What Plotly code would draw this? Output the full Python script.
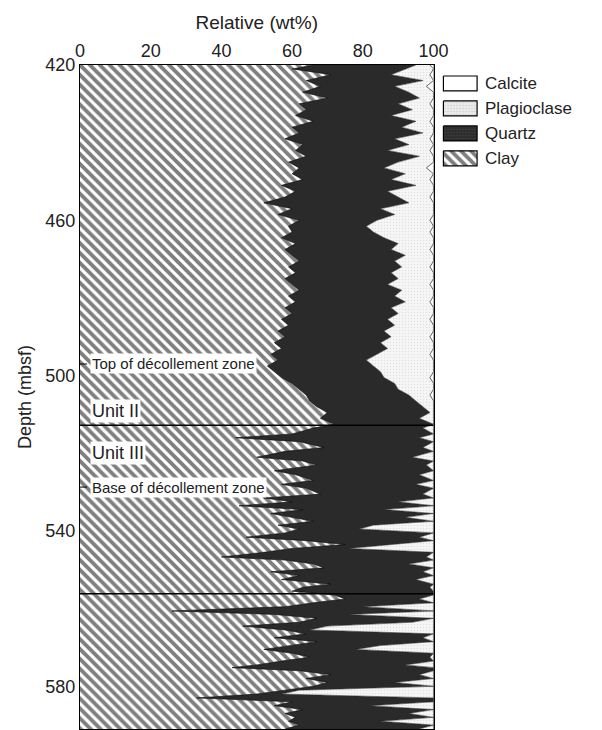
import plotly.graph_objects as go

depth = [420.0, 421.0, 422.5, 424.0, 425.5, 427.0, 428.5, 430.0, 431.5, 433.0,
         434.5, 436.0, 437.5, 439.0, 440.5, 442.0, 443.5, 445.0, 446.5, 448.0,
         449.5, 451.0, 452.5, 454.0, 455.5, 457.0, 458.5, 460.0, 461.5, 463.0,
         464.5, 466.0, 467.5, 469.0, 470.5, 472.0, 473.5, 475.0, 476.5, 478.0,
         479.5, 481.0, 482.5, 484.0, 485.5, 487.0, 488.5, 490.0, 491.5, 493.0,
         494.5, 496.0, 497.5, 499.0, 500.5, 502.0, 503.5, 505.0, 506.5, 508.0,
         509.5, 511.0, 512.5,
         513.5, 515.0, 516.0, 517.0, 518.5, 519.5, 521.0, 522.0, 523.0, 524.5,
         525.5, 527.0, 528.0, 529.0, 530.5, 531.5, 532.5, 533.5, 534.5, 535.5,
         536.5, 537.5, 538.5, 539.5, 540.5, 541.6, 542.5, 543.5, 544.5, 545.5,
         546.7, 547.5, 548.5, 549.5, 550.5, 551.5, 552.5, 553.7, 554.5, 555.5,
         556.5, 557.5, 558.5, 559.5, 560.6, 561.5, 562.5, 563.5, 564.5, 565.5,
         566.5, 567.5, 568.5, 569.5, 570.5, 571.5, 572.5, 573.5, 574.5, 575.2,
         576.0, 577.0, 578.0, 579.0, 580.0, 581.0, 582.0, 583.0, 584.0, 585.0,
         586.0, 587.0, 588.0, 589.0, 590.0, 591.0]

clay = [66, 60, 71, 64, 68, 63, 70, 62, 64, 61,
        66, 60, 62, 58, 63, 61, 64, 59, 62, 60,
        63, 57, 61, 58, 52, 60, 56, 62, 59, 60,
        57, 61, 58, 60, 62, 59, 61, 58, 60, 62,
        59, 61, 58, 60, 57, 59, 56, 58, 55, 57,
        54, 56, 53, 55, 57, 60, 62, 64, 65, 67,
        70, 68, 72,
        66, 60, 44, 62, 69, 58, 50, 63, 67, 55,
        61, 66, 57, 64, 68, 52, 60, 45, 63, 54,
        60, 66, 56, 62, 58, 47, 64, 75, 60, 52,
        40, 58, 66, 69, 54, 62, 57, 71, 63, 60,
        72, 75, 66, 58, 26, 55, 67, 62, 46, 58,
        64, 55, 67, 60, 52, 60, 65, 57, 50, 43,
        62, 71, 64, 70, 66, 58, 50, 33, 60, 55,
        63, 58, 61, 59, 62, 58]

quartz = [29, 32, 17, 33, 21, 30, 26, 28, 30, 27,
          29, 31, 35, 31, 30, 26, 32, 31, 24, 32,
          25, 38, 26, 32, 41, 25, 33, 22, 22, 23,
          29, 29, 30, 32, 27, 32, 27, 32, 27, 29,
          30, 31, 30, 30, 30, 30, 30, 30, 30, 30,
          30, 25, 30, 30, 29, 29, 28, 29, 30, 30,
          29, 28, 28,
          31, 40, 52, 38, 28, 42, 44, 37, 31, 45,
          35, 34, 38, 36, 29, 48, 30, 55, 23, 46,
          32, 34, 27, 17, 42, 49, 36, 13, 16, 48,
          58, 42, 27, 31, 43, 38, 38, 29, 36, 40,
          28, 21, 34, 22, 74, 21, 33, 32, 24, 7,
          36, 42, 33, 25, 26, 40, 34, 43, 42, 57,
          38, 25, 36, 19, 34, 4, 7, 67, 40, 27,
          37, 35, 39, 26, 38, 38]

plagioclase = [4, 8, 11, 3, 9, 7, 4, 9, 6, 12,
               4, 9, 3, 10, 7, 12, 4, 10, 12, 8,
               11, 5, 13, 9, 7, 15, 11, 15, 19, 16,
               14, 10, 11, 8, 11, 8, 12, 10, 12, 9,
               11, 7, 12, 10, 12, 11, 14, 11, 15, 13,
               15, 19, 17, 15, 13, 11, 10, 6, 5, 3,
               1, 4, 0,
               3, 0, 4, 0, 3, 0, 6, 0, 2, 0,
               4, 0, 5, 0, 3, 0, 10, 0, 14, 0,
               8, 0, 17, 21, 0, 4, 0, 12, 24, 0,
               2, 0, 7, 0, 3, 0, 5, 0, 1, 0,
               0, 4, 0, 20, 0, 24, 0, 6, 30, 35,
               0, 3, 0, 15, 22, 0, 1, 0, 8, 0,
               0, 4, 0, 11, 0, 38, 43, 0, 0, 18,
               0, 7, 0, 15, 0, 4]

calcite = [1, 0, 1, 0, 2, 0, 0, 1, 0, 0,
           1, 0, 0, 1, 0, 1, 0, 0, 2, 0,
           1, 0, 0, 1, 0, 0, 0, 1, 0, 1,
           0, 0, 1, 0, 0, 1, 0, 0, 1, 0,
           0, 1, 0, 0, 1, 0, 0, 1, 0, 0,
           1, 0, 0, 0, 1, 0, 0, 1, 0, 0,
           0, 0, 0,
           0, 0, 0, 0, 0, 0, 0, 0, 0, 0,
           0, 0, 0, 0, 0, 0, 0, 0, 0, 0,
           0, 0, 0, 0, 0, 0, 0, 0, 0, 0,
           0, 0, 0, 0, 0, 0, 0, 0, 0, 0,
           0, 0, 0, 0, 0, 0, 0, 0, 0, 0,
           0, 0, 0, 0, 0, 0, 0, 0, 0, 0,
           0, 0, 0, 0, 0, 0, 0, 0, 0, 0,
           0, 0, 0, 0, 0, 0]

x_ticks = [0, 20, 40, 60, 80, 100]
y_ticks = [420, 460, 500, 540, 580]
unit_boundaries = [512.8, 556.2]
labels = [("Top of décollement zone", 497.0, 15),
          ("Unit II", 509.2, 18),
          ("Unit III", 520.0, 18),
          ("Base of décollement zone", 528.7, 15)]
legend_names = ["Calcite", "Plagioclase", "Quartz", "Clay"]

FONT = "Liberation Sans, Arial, sans-serif"
TXT = "#222222"

styles = {
    "Clay": dict(fillcolor="white",
                 fillpattern=dict(shape="\\", fgcolor="black", bgcolor="white",
                                  size=7, solidity=0.55)),
    "Quartz": dict(fillcolor="#2a2a2a"),
    "Plagioclase": dict(fillcolor="#f6f6f6",
                        fillpattern=dict(shape=".", fgcolor="#c8c8c8",
                                         bgcolor="#f6f6f6", size=3,
                                         solidity=0.2)),
    "Calcite": dict(fillcolor="white"),
}

fig = go.Figure()
series = [("Clay", clay), ("Quartz", quartz),
          ("Plagioclase", plagioclase), ("Calcite", calcite)]
for name, vals in series:
    lc = "#2a2a2a" if name == "Quartz" else "black"
    fig.add_trace(go.Scatter(
        x=vals, y=depth, name=name, stackgroup="one", orientation="h",
        mode="lines", line=dict(color=lc, width=0.6), showlegend=False,
        **styles[name]))

# custom legend swatches drawn on a pixel-scaled helper axis
SW_X0, SW_X1, SW_H = 447, 481, 15
LEG_Y0, LEG_DY = 76, 25
ann = []
for i, name in enumerate(legend_names):
    y0 = LEG_Y0 + i * LEG_DY
    y1 = y0 + SW_H
    st = dict(styles[name])
    if name == "Quartz":
        st = dict(fillcolor="#2a2a2a",
                  fillpattern=dict(shape=".", fgcolor="#555555",
                                   bgcolor="#2a2a2a", size=3, solidity=0.3))
    if name == "Plagioclase":
        st = dict(fillcolor="#eeeeee",
                  fillpattern=dict(shape=".", fgcolor="#b0b0b0",
                                   bgcolor="#eeeeee", size=3, solidity=0.3))
    fig.add_trace(go.Scatter(
        x=[SW_X0, SW_X1, SW_X1, SW_X0, SW_X0], y=[y0, y0, y1, y1, y0],
        fill="toself", mode="lines", line=dict(color="black", width=1.2),
        xaxis="x2", yaxis="y2", showlegend=False, hoverinfo="skip", **st))
    ann.append(dict(text=name, x=SW_X1 + 6, y=(y0 + y1) / 2, xref="x2",
                    yref="y2", xanchor="left", yanchor="middle",
                    showarrow=False,
                    font=dict(family=FONT, size=17, color=TXT)))

shapes = []
for d in unit_boundaries:
    shapes.append(dict(type="line", xref="x", yref="y", x0=0, x1=100,
                       y0=d, y1=d, line=dict(color="black", width=1.5)))
for txt, d, fs in labels:
    if fs == 15:
        shapes.append(dict(type="line", xref="x", yref="y", x0=0, x1=2,
                           y0=d, y1=d, line=dict(color="black", width=1)))

for txt, d, fs in labels:
    ann.append(dict(text=txt, x=2.8, y=d, xref="x", yref="y",
                    xanchor="left", yanchor="middle", showarrow=False,
                    font=dict(family=FONT, size=fs, color=TXT),
                    bgcolor="white", borderpad=1))

L, R, T, B = 80, 10, 65, 0
W, H = 602, 730
plot_w = W - L - R
main_end = (437 - L) / plot_w

fig.update_layout(
    width=W, height=H,
    margin=dict(l=L, r=R, t=T, b=B),
    paper_bgcolor="white", plot_bgcolor="white",
    font=dict(family=FONT, size=17, color=TXT),
    showlegend=False,
    shapes=shapes, annotations=ann,
    xaxis=dict(domain=[0, main_end], side="top", range=[0, 100],
               tickvals=x_ticks, ticks="", showgrid=False, zeroline=False,
               showline=True, linecolor="black", linewidth=1.2, mirror=True,
               title=dict(text="Relative (wt%)", standoff=6,
                          font=dict(size=19)),
               tickfont=dict(size=18)),
    yaxis=dict(range=[591, 420], tickvals=y_ticks, ticks="",
               showgrid=False, zeroline=False,
               showline=True, linecolor="black", linewidth=1.2, mirror=True,
               title=dict(text="Depth (mbsf)", standoff=8,
                          font=dict(size=18)),
               tickfont=dict(size=18)),
    xaxis2=dict(domain=[main_end + 0.002, 1],
                range=[L + (main_end + 0.002) * plot_w, W - R],
                visible=False, fixedrange=True),
    yaxis2=dict(domain=[0, 1], range=[H - B, T], visible=False,
                anchor="x2", fixedrange=True),
)

fig.write_html("out.html")
